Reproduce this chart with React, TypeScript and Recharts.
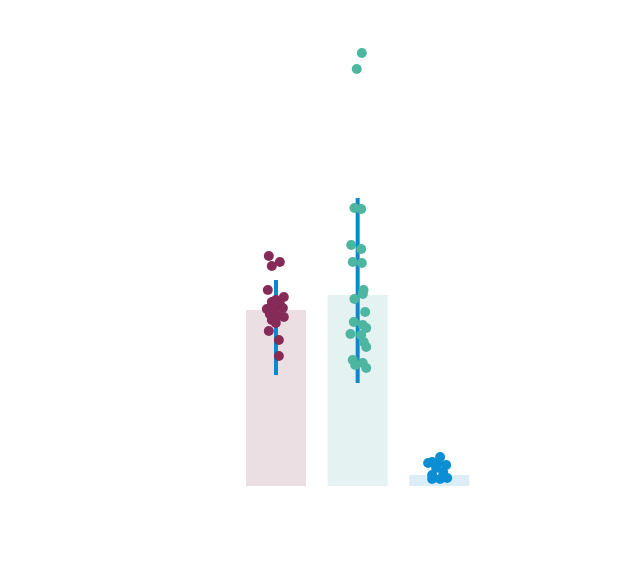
import { ComposedChart, Bar, Cell, ErrorBar, Scatter, XAxis, YAxis } from "recharts";

const groups = ["A", "B", "C"];
const means = [17.6, 19.1, 1.1];
// [below, above] the mean
const errors: ([number, number] | null)[] = [[6.5, 3.0], [8.8, 9.7], null];
const barFills = ["#ecdfe4", "#e4f2f1", "#dcedf7"];
const dotFills = ["#862b58", "#4db6a0", "#0c8ed5"];

// [jitter, value] per group
const pointsA = [
  [-0.086, 23.0], [0.049, 22.4], [-0.049, 22.0], [-0.098, 19.6], [0.098, 18.9],
  [0, 18.6], [-0.049, 18.4], [0.049, 18.2], [-0.11, 17.7], [-0.012, 17.8],
  [0.086, 17.8], [-0.074, 17.2], [0.025, 17.0], [0.098, 16.9], [-0.049, 16.6],
  [0, 16.3], [-0.086, 15.5], [0.037, 14.6], [0.037, 13.0],
];
const pointsB = [
  [0.053, 43.3], [-0.009, 41.7], [-0.037, 27.8], [0.045, 27.7], [-0.077, 24.1],
  [0.045, 23.7], [-0.058, 22.4], [0.053, 22.3], [0.074, 19.6], [0.065, 19.2],
  [-0.037, 18.7], [0.094, 17.4], [-0.045, 16.4], [0.065, 16.1], [0.107, 15.8],
  [-0.086, 15.2], [0.045, 15.1], [0.077, 14.4], [0.107, 13.9], [-0.058, 12.6],
  [-0.028, 12.1], [0.065, 12.3], [0.107, 11.8],
];
const pointsC = [
  [-0.086, 2.4], [0.012, 2.9], [0.086, 2.1], [-0.135, 2.3], [-0.037, 1.8],
  [0.049, 1.4], [-0.086, 1.1], [0.012, 0.7], [0.098, 0.8], [-0.086, 0.7],
  [-0.012, 2.3],
];

const barData = groups.map((name, i) => ({ name, mean: means[i], err: errors[i] }));
const scatterSets = [pointsA, pointsB, pointsC].map((pts, i) =>
  pts.map(([j, v]) => ({ x: i + 0.5 + j, y: v }))
);

const App = () => {
  return (
    <div style={{ position: "absolute", top: 0, left: 0 }}>
      <ComposedChart
        width={625}
        height={570}
        data={barData}
        margin={{ top: 36, right: 145, bottom: 84, left: 235 }}
      >
        <XAxis xAxisId="cat" dataKey="name" type="category" hide />
        <XAxis xAxisId="num" dataKey="x" type="number" domain={[0, 3]} hide />
        <YAxis type="number" domain={[0, 45]} hide />
        <Bar xAxisId="cat" dataKey="mean" barSize={60} isAnimationActive={false}>
          {barData.map((d, i) => (
            <Cell key={d.name} fill={barFills[i]} />
          ))}
          <ErrorBar dataKey="err" width={0} stroke="#0a88d0" strokeWidth={4} />
        </Bar>
        {scatterSets.map((set, i) => (
          <Scatter
            key={i}
            xAxisId="num"
            data={set}
            dataKey="y"
            isAnimationActive={false}
            shape={(p: any) => <circle cx={p.cx} cy={p.cy} r={5} fill={dotFills[i]} />}
          />
        ))}
      </ComposedChart>
    </div>
  );
};

export default App;
